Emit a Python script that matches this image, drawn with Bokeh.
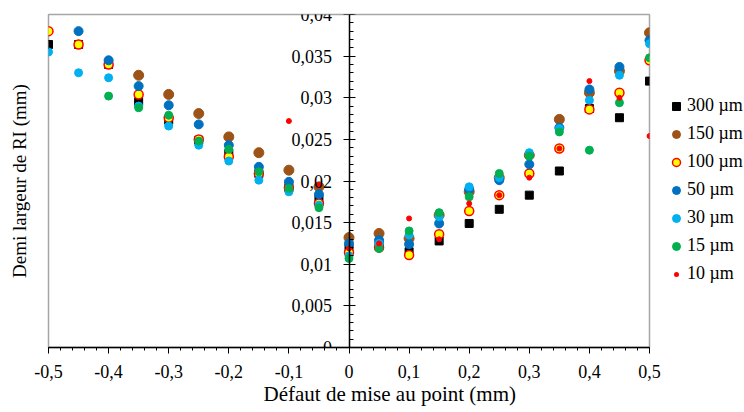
from bokeh.plotting import figure
from bokeh.models import (Legend, LegendItem, CustomJSTickFormatter, SingleIntervalTicker,
                          LinearAxis, FixedTicker, Title)
from bokeh.embed import file_html
from bokeh.resources import INLINE

# ---------------- data ----------------
labels = ["300 µm", "150 µm", "100 µm", "50 µm", "30 µm", "15 µm", "10 µm"]

x_300 = [-0.5, -0.45, -0.4, -0.35, -0.3, -0.25, -0.2, -0.15, -0.1, -0.05, 0, 0.05, 0.1, 0.15, 0.2, 0.25, 0.3, 0.35, 0.4, 0.45, 0.5]
y_300 = [0.0364, 0.0364, 0.0340, 0.0295, 0.0273, 0.0249, 0.0233, 0.0209, 0.0192, 0.0178, 0.0120, 0.0123, 0.0115, 0.0128, 0.0149, 0.0166, 0.0183, 0.0212, 0.0287, 0.0276, 0.0320]

x_150 = [-0.35, -0.3, -0.25, -0.2, -0.15, -0.1, -0.05, 0, 0.05, 0.1, 0.15, 0.2, 0.25, 0.3, 0.35, 0.4, 0.45, 0.5]
y_150 = [0.0327, 0.0304, 0.0281, 0.0253, 0.0234, 0.0213, 0.0193, 0.0132, 0.0137, 0.0131, 0.0159, 0.0187, 0.0204, 0.0231, 0.0274, 0.0306, 0.0332, 0.0378]

x_100 = [-0.5, -0.45, -0.4, -0.35, -0.3, -0.25, -0.2, -0.15, -0.1, -0.05, 0, 0.05, 0.1, 0.15, 0.2, 0.25, 0.3, 0.35, 0.4, 0.45, 0.5]
y_100 = [0.0380, 0.0364, 0.0340, 0.0304, 0.0276, 0.0250, 0.0229, 0.0209, 0.0192, 0.0173, 0.0114, 0.0120, 0.0111, 0.0136, 0.0164, 0.0183, 0.0209, 0.0239, 0.0286, 0.0306, 0.0345]

x_50 = [-0.45, -0.4, -0.35, -0.3, -0.25, -0.2, -0.15, -0.1, -0.05, 0, 0.05, 0.1, 0.15, 0.2, 0.25, 0.3, 0.35, 0.4, 0.45, 0.5]
y_50 = [0.0380, 0.0345, 0.0314, 0.0291, 0.0268, 0.0243, 0.0217, 0.0199, 0.0184, 0.0125, 0.0129, 0.0124, 0.0149, 0.0190, 0.0201, 0.0220, 0.0264, 0.0310, 0.0337, 0.0369]

x_30 = [-0.5, -0.45, -0.4, -0.35, -0.3, -0.25, -0.2, -0.15, -0.1, -0.05, 0, 0.05, 0.1, 0.15, 0.2, 0.25, 0.3, 0.35, 0.4, 0.45, 0.5]
y_30 = [0.0355, 0.0330, 0.0324, 0.0290, 0.0266, 0.0243, 0.0224, 0.0201, 0.0187, 0.0171, 0.0110, 0.0125, 0.0135, 0.0157, 0.0193, 0.0204, 0.0234, 0.0263, 0.0297, 0.0327, 0.0365]

x_15 = [-0.4, -0.35, -0.3, -0.25, -0.2, -0.15, -0.1, -0.05, 0, 0.05, 0.1, 0.15, 0.2, 0.25, 0.3, 0.35, 0.4, 0.45, 0.5]
y_15 = [0.0302, 0.0288, 0.0279, 0.0248, 0.0238, 0.0211, 0.0191, 0.0168, 0.0107, 0.0119, 0.0140, 0.0162, 0.0181, 0.0209, 0.0230, 0.0259, 0.0237, 0.0294, 0.0348]

x_10 = [-0.1, -0.05, 0, 0.05, 0.1, 0.15, 0.2, 0.25, 0.3, 0.35, 0.4, 0.45, 0.5]
y_10 = [0.0272, 0.0195, 0.0119, 0.0125, 0.0155, 0.0130, 0.0173, 0.0183, 0.0204, 0.0239, 0.0320, 0.0300, 0.0254]

x_title = "Défaut de mise au point (mm)"
y_title = "Demi largeur de RI (mm)"

FONT = "'Liberation Serif'"

# ---------------- figure ----------------
p = figure(frame_width=601, frame_height=333,
           x_range=(-0.5, 0.5), y_range=(0, 0.04),
           output_backend="svg", toolbar_location=None,
           min_border_left=48, min_border_top=14, min_border_right=95, min_border_bottom=65)
p.background_fill_color = "white"
p.border_fill_color = "white"
p.outline_line_color = "#a6a6a6"
p.outline_line_width = 1.5
p.xgrid.visible = False
p.ygrid.visible = False

fmt = CustomJSTickFormatter(code="""
    var v = Math.round(tick*1000)/1000;
    if (Math.abs(v) < 1e-9) { return '0'; }
    return v.toString().replace('.', ',');
""")

# x axis
xa = p.xaxis[0]
xa.ticker = SingleIntervalTicker(interval=0.1, num_minor_ticks=5)
xa.formatter = fmt
xa.axis_line_color = "black"
xa.axis_line_width = 1.5
xa.major_tick_line_color = "black"
xa.minor_tick_line_color = "black"
xa.major_tick_out = 6
xa.major_tick_in = 0
xa.minor_tick_out = 3
xa.minor_tick_in = 0
xa.major_label_text_font = FONT
xa.major_label_text_font_size = "18px"
xa.major_label_text_color = "black"
xa.major_label_standoff = 11

# x title (sits a little right of the frame centre, as in the reference)
p.add_layout(Title(text=x_title, align="left", offset=215, vertical_align="middle",
                   standoff=0, text_font=FONT, text_font_size="21px",
                   text_font_style="normal", text_color="black"), "below")

# y axis crossing at x = 0
ya = p.yaxis[0]
ya.fixed_location = 0
ya.ticker = SingleIntervalTicker(interval=0.005, num_minor_ticks=5)
ya.formatter = fmt
ya.axis_line_color = "black"
ya.axis_line_width = 1.5
ya.major_tick_line_color = "black"
ya.minor_tick_line_color = "black"
ya.major_tick_out = 6
ya.major_tick_in = 6
ya.minor_tick_out = 0
ya.minor_tick_in = 4
ya.major_label_text_font = FONT
ya.major_label_text_font_size = "18px"
ya.major_label_text_color = "black"
ya.major_label_standoff = 11

# y title carried by an extra, tick-less axis at the left edge
ytitle_axis = LinearAxis(ticker=FixedTicker(ticks=[]), axis_label=y_title,
                         axis_line_color=None, major_tick_line_color=None,
                         minor_tick_line_color=None, major_tick_out=0, major_tick_in=0,
                         minor_tick_out=0, minor_tick_in=0, major_label_standoff=0,
                         major_label_text_font_size="0px",
                         axis_label_text_font=FONT, axis_label_text_font_style="normal",
                         axis_label_text_color="black",
                         axis_label_text_font_size="19px", axis_label_standoff=19)
p.add_layout(ytitle_axis, "left")

# ---------------- series ----------------
r300 = p.scatter(x_300, y_300, marker="square", size=8, fill_color="black", line_color="black")
r150 = p.scatter(x_150, y_150, marker="circle", size=10, fill_color="#9c5317", line_color="#9c5317")
r100 = p.scatter(x_100, y_100, marker="circle", size=9, fill_color="#ffff00", line_color="#ff0000", line_width=1.5)
r50 = p.scatter(x_50, y_50, marker="circle", size=9, fill_color="#0070c0", line_color="#0070c0")
r30 = p.scatter(x_30, y_30, marker="circle", size=8, fill_color="#00b0f0", line_color="#00b0f0")
r15 = p.scatter(x_15, y_15, marker="circle", size=8, fill_color="#00b050", line_color="#00b050")
r10 = p.scatter(x_10, y_10, marker="circle", size=5, fill_color="#ff0000", line_color="#ff0000")

# hidden twin of the 10 µm series, used only for its smaller legend key
r10_key = p.scatter(x_10, y_10, marker="circle", size=8, fill_color="#ff0000",
                    line_color="white", line_width=3, visible=False)

renderers = [r300, r150, r100, r50, r30, r15, r10_key]
legend = Legend(items=[LegendItem(label=l, renderers=[r]) for l, r in zip(labels, renderers)])
legend.label_text_font = FONT
legend.label_text_font_size = "18px"
legend.label_text_color = "black"
legend.glyph_width = 22
legend.glyph_height = 20
legend.label_height = 20
legend.label_standoff = 0
legend.spacing = 7
legend.padding = 0
legend.margin = 0
legend.border_line_color = None
legend.background_fill_alpha = 0
legend.inactive_fill_alpha = 0
legend.location = (16, 63)
p.add_layout(legend, "right")

open("out.html", "w").write(file_html(p, INLINE))
